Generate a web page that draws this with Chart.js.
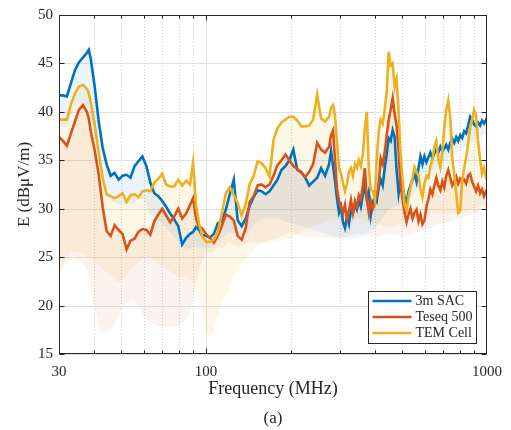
<!DOCTYPE html>
<html>
<head>
<meta charset="utf-8">
<script src="https://cdn.jsdelivr.net/npm/chart.js@4.4.0/dist/chart.umd.min.js"></script>
<style>
  html, body { margin: 0; padding: 0; background: #fff; }
  #wrap { width: 511px; height: 430px; }
</style>
</head>
<body>
<div id="wrap"><canvas id="chart"></canvas></div>
<script>
// frequency grid (MHz) shared by the three measured curves
const freqMHz = [
  30, 31.0, 32.0, 33.1, 34.2, 35.3, 36.5, 37.7, 38.3, 38.9, 40.2, 41.5, 42.9, 44.3, 45.8, 47.3, 48.9, 50.5, 52.2, 53.9,
  55.7, 57.5, 59.4, 61.4, 63.4, 65.5, 67.7, 69.9, 72.2, 74.6, 77.1, 79.7, 82.3, 85.0, 87.8, 90.0, 92.2, 94.5, 96.8, 100,
  103.3, 106.7, 110.2, 113.9, 117.7, 121.6, 125.6, 129.7, 134.0, 138.5, 143.0, 147.8, 152.7, 157.7, 162.9, 168.3,
  173.9, 179.6, 185.6, 191.7, 198.1, 204.6, 211.4, 218.4, 225.6, 233.0, 240.7, 248.7, 256.9, 265.4, 274.2,
  278.7, 283.4, 288.0, 292.7, 297.5, 302.4, 307.4, 312.4, 317.5, 322.7, 328.0, 333.4, 338.8, 344.4, 350.0, 355.8,
  361.6, 367.6, 373.6, 379.7, 385.9, 392.3, 398.7, 405.2, 411.9, 418.6, 425.6, 432.5, 439.6, 446.8, 454.1, 461.6,
  469.2, 476.8, 484.7, 492.6, 500.7, 508.9, 517.3, 525.7, 534.4, 543.3, 552.1, 561.2, 570.5, 579.9, 589.3, 599.0,
  608.8, 618.7, 628.9, 639.2, 649.6, 660.3, 671.2, 682.2, 693.4, 704.8, 716.3, 728.1, 740.1, 752.2, 764.5, 777.1,
  789.8, 802.8, 816.0, 829.4, 843.0, 856.9, 870.9, 885.1, 899.7, 914.4, 929.4, 944.7, 960.1, 975.9, 992.0, 1000
];

// field strength, dBuV/m
const sacLevel = [
  41.7, 41.7, 41.6, 43.0, 44.3, 45.1, 45.6, 46.1, 46.4, 45.5, 42.6, 39.1, 36.3, 34.6, 33.4, 33.7, 33.0, 33.4, 33.5, 33.2,
  34.4, 34.9, 35.4, 34.4, 32.7, 31.6, 31.3, 30.8, 30.2, 29.5, 28.9, 28.2, 26.3, 27.0, 27.4, 27.6, 28.1, 27.8, 27.3, 27.2,
  27.0, 27.4, 28.5, 28.7, 29.9, 31.5, 33.0, 28.8, 28.2, 29.0, 30.3, 31.2, 31.9, 31.8, 31.5, 31.8,
  32.4, 33.0, 34.0, 34.4, 35.0, 36.1, 34.0, 33.8, 33.2, 32.4, 32.8, 33.2, 34.2, 33.4, 34.6,
  36.0, 34.4, 32.8, 31.0, 29.6, 30.2, 28.6, 28.0, 29.2, 28.4, 29.8, 29.5, 30.4, 29.9, 30.9, 30.2,
  31.4, 32.4, 31.0, 31.8, 29.3, 30.6, 31.3, 30.8, 32.2, 33.0, 32.4, 34.2, 35.6, 37.3, 37.0, 38.1,
  37.4, 34.0, 31.6, 33.0, 32.5, 31.2, 30.6, 31.8, 32.4, 33.0, 33.6, 32.8, 34.2, 35.4, 34.6, 35.4,
  34.8, 35.3, 35.8, 35.2, 35.7, 36.2, 35.8, 36.4, 35.9, 36.2, 36.6, 36.1, 36.8, 37.2, 36.8, 37.4,
  37.0, 37.6, 37.3, 38.0, 37.8, 38.6, 39.5, 39.2, 38.7, 38.5, 38.9, 38.6, 39.1, 38.8, 39.2, 39.0
];
const teseqLevel = [
  37.4, 37.0, 36.5, 37.8, 39.0, 40.2, 40.7, 40.0, 39.3, 38.0, 36.0, 33.6, 30.2, 27.7, 27.2, 28.3, 27.8, 27.4, 25.8, 26.7,
  26.9, 27.6, 27.9, 27.8, 27.3, 28.7, 29.4, 30.0, 29.3, 28.6, 29.2, 30.0, 29.0, 29.5, 30.4, 31.1, 29.0, 28.1, 28.0, 27.4,
  27.0, 26.5, 27.2, 28.2, 29.4, 29.2, 28.8, 27.2, 26.8, 28.0, 30.7, 31.3, 32.4, 32.5, 32.2, 32.5,
  33.4, 34.5, 35.0, 35.6, 35.0, 34.4, 34.1, 33.7, 33.3, 33.8, 34.6, 36.8, 36.1, 35.8, 36.4,
  37.6, 38.1, 35.0, 32.0, 30.8, 30.2, 29.6, 30.4, 28.9, 29.8, 30.9, 29.6, 30.8, 30.2, 31.4, 31.0,
  32.4, 34.2, 31.0, 29.6, 30.8, 30.0, 30.6, 31.4, 32.6, 35.2, 34.6, 35.8, 37.6, 39.1, 40.2, 41.4,
  39.8, 38.6, 36.0, 32.4, 31.0, 29.6, 28.6, 29.4, 30.0, 29.0, 29.6, 29.9, 28.7, 29.4, 28.4, 28.8,
  30.2, 31.0, 32.0, 31.5, 32.4, 33.2, 32.4, 31.9, 32.8, 32.2, 33.4, 34.0, 33.2, 32.4, 32.8, 33.3,
  32.6, 33.1, 32.8, 33.0, 32.6, 33.4, 33.6, 32.8, 32.3, 31.8, 32.4, 31.6, 32.0, 31.3, 31.8, 31.5
];
const temLevel = [
  39.2, 39.2, 39.2, 40.8, 41.9, 42.6, 42.8, 42.4, 41.9, 41.0, 38.7, 35.9, 33.2, 31.5, 31.3, 31.1, 31.3, 31.6, 30.7, 31.4,
  31.5, 31.2, 31.8, 31.9, 31.8, 32.7, 33.1, 33.6, 32.5, 32.3, 32.3, 33.0, 32.4, 32.9, 32.5, 34.8, 30.4, 28.5, 27.2, 26.6,
  26.6, 26.8, 27.6, 29.5, 31.6, 32.2, 31.4, 30.6, 29.3, 30.5, 32.5, 33.4, 34.9, 34.7, 34.2, 33.3,
  37.1, 38.3, 38.9, 39.2, 39.5, 39.5, 39.1, 38.5, 38.5, 38.6, 39.2, 41.8, 39.3, 39.0, 39.5,
  40.4, 40.7, 39.6, 36.8, 34.2, 33.6, 32.6, 31.8, 32.6, 33.8, 34.2, 33.4, 34.6, 34.2, 35.0, 34.4,
  35.6, 38.4, 40.0, 34.2, 32.0, 31.8, 30.9, 35.2, 38.0, 39.2, 38.8, 40.2, 42.0, 46.2, 44.8, 45.0,
  42.6, 43.4, 40.0, 35.6, 33.0, 30.4, 29.8, 31.2, 32.2, 33.2, 34.3, 33.8, 33.4, 32.0, 31.2, 32.6,
  33.4, 33.2, 34.4, 35.0, 36.4, 37.0, 35.2, 34.3, 35.8, 38.4, 40.2, 41.2, 39.4, 35.2, 33.6, 31.6,
  29.6, 29.8, 33.0, 34.2, 35.4, 36.8, 38.4, 39.2, 40.2, 39.6, 37.0, 35.2, 33.6, 34.2, 33.2, 33.0
];

// lower edge of the spread for each setup
const bandFreq = [30, 31, 32, 33, 34, 36, 38, 40, 42, 44, 46, 48, 50, 52, 55, 58, 60, 63, 66, 70, 75, 80, 85, 88, 90, 95,
  100, 103, 106, 110, 115, 120, 130, 140, 150, 160, 180, 200, 230, 260, 300, 350, 400, 450, 500, 550, 600, 700, 800, 900, 1000];
const sacLow = [38.5, 38.5, 38.5, 39.5, 40.5, 41, 40.5, 38, 34, 31.5, 30.8, 30.5, 30.5, 30.5, 30.5, 31, 31, 29.5, 29, 28.5,
  27.5, 26.5, 25.8, 26, 26, 26, 26, 26, 26, 26.5, 27, 27.5, 27.5, 27.5, 28.5, 29, 29, 28.5, 28, 27.5, 27, 27, 28, 30, 30.5,
  31.5, 33.5, 34.8, 36, 37.2, 37.8];
const teseqLow = [23.5, 23.8, 24.5, 25, 25, 24.5, 23.5, 20, 17.5, 17.2, 17.5, 18.5, 19.5, 20.3, 20.5, 19.8, 19, 18.3, 18,
  17.8, 17.8, 18, 18.5, 19.5, 21, 24, 25.5, 25.5, 25.5, 26, 26, 26.5, 26, 26.5, 26.5, 26.5, 27, 27.5, 27, 27, 27, 27.5, 27,
  27.5, 27, 27.5, 27.8, 28.5, 29, 29.5, 30];
const temLow = [25, 24.5, 25, 25.5, 25.5, 25.5, 25, 24.5, 24, 23.5, 23, 22.5, 22.5, 23, 24, 24.5, 25, 25, 24.5, 24, 23.5,
  23, 23, 22.5, 22.5, 20.5, 17.5, 16.8, 17.2, 19, 20.6, 21.5, 24, 25, 26, 26.5, 26.5, 27, 28, 28.5, 29, 29, 28.5, 28, 28.5,
  29, 29.5, 29.5, 29.5, 30, 30.5];

// axis ticks
const yTicks = [15, 20, 25, 30, 35, 40, 45, 50];
const xLabels = [30, 100, 1000];
const xMajor = [100];
const xMinor = [40, 50, 60, 70, 80, 90, 200, 300, 400, 500, 600, 700, 800, 900];

const seriesNames = ['3m SAC', 'Teseq 500', 'TEM Cell'];
const colors = ['#0072BD', '#D95319', '#EDB120'];
const bandColors = ['rgba(0,114,189,0.08)', 'rgba(217,83,25,0.07)', 'rgba(237,177,32,0.1)'];

const FONT = '"Liberation Serif", "DejaVu Serif", serif';
const INK = '#262626';

const toPoints = (xs, ys) => xs.map((f, i) => ({ x: f, y: ys[i] }));

const lineSet = (i, values) => ({
  label: seriesNames[i],
  data: toPoints(freqMHz, values),
  borderColor: colors[i],
  borderWidth: 2.6,
  pointRadius: 0,
  tension: 0,
  fill: false,
  order: 3 - i
});
const bandSet = (i, values) => ({
  label: seriesNames[i] + ' spread',
  data: toPoints(bandFreq, values),
  borderWidth: 0,
  borderColor: 'rgba(0,0,0,0)',
  backgroundColor: bandColors[i],
  pointRadius: 0,
  tension: 0,
  fill: i,
  order: 10 + i
});

// grid, inward ticks, box, legend and caption in MATLAB style
const axesFrame = {
  id: 'axesFrame',
  beforeDatasetsDraw(chart) {
    const { ctx, chartArea: a, scales: { x, y } } = chart;
    const seg = (x1, y1, x2, y2) => { ctx.beginPath(); ctx.moveTo(x1, y1); ctx.lineTo(x2, y2); ctx.stroke(); };
    ctx.save();
    ctx.lineWidth = 1;
    ctx.strokeStyle = '#e0e0e0';
    yTicks.forEach(v => { const p = Math.round(y.getPixelForValue(v)) + 0.5; seg(a.left, p, a.right, p); });
    xMajor.forEach(v => { const p = Math.round(x.getPixelForValue(v)) + 0.5; seg(p, a.top, p, a.bottom); });
    ctx.strokeStyle = '#cfcfcf';
    ctx.setLineDash([1, 2]);
    xMinor.forEach(v => { const p = Math.round(x.getPixelForValue(v)) + 0.5; seg(p, a.top, p, a.bottom); });
    ctx.restore();
  },
  afterDatasetsDraw(chart) {
    const { ctx, chartArea: a, scales: { x, y } } = chart;
    const seg = (x1, y1, x2, y2) => { ctx.beginPath(); ctx.moveTo(x1, y1); ctx.lineTo(x2, y2); ctx.stroke(); };
    const L = Math.round(a.left) + 0.5, R = Math.round(a.right) - 0.5;
    const T = Math.round(a.top) + 0.5, B = Math.round(a.bottom) - 0.5;
    ctx.save();
    ctx.strokeStyle = INK;
    ctx.lineWidth = 1;
    ctx.strokeRect(L, T, R - L, B - T);
    yTicks.forEach(v => {
      const p = Math.round(y.getPixelForValue(v)) + 0.5;
      seg(L, p, L + 5, p);
      seg(R, p, R - 5, p);
    });
    xMajor.forEach(v => {
      const p = Math.round(x.getPixelForValue(v)) + 0.5;
      seg(p, B, p, B - 5);
      seg(p, T, p, T + 5);
    });
    xMinor.forEach(v => {
      const p = Math.round(x.getPixelForValue(v)) + 0.5;
      seg(p, B, p, B - 3);
      seg(p, T, p, T + 3);
    });

    // legend box
    const bx = Math.round(a.right) - 119 + 0.5, by = Math.round(a.bottom) - 63 + 0.5;
    const bw = 108, bh = 52;
    ctx.fillStyle = '#fff';
    ctx.fillRect(bx, by, bw, bh);
    ctx.strokeRect(bx, by, bw, bh);
    ctx.font = '14px ' + FONT;
    ctx.textBaseline = 'middle';
    ctx.textAlign = 'left';
    seriesNames.forEach((name, i) => {
      const ry = by + 9.5 + i * 16;
      ctx.strokeStyle = colors[i];
      ctx.lineWidth = 2.6;
      seg(bx + 4, ry, bx + 43, ry);
      ctx.fillStyle = INK;
      ctx.fillText(name, bx + 47, ry + 0.5);
    });

    // panel caption
    ctx.font = '17px ' + FONT;
    ctx.textAlign = 'center';
    ctx.fillStyle = INK;
    ctx.fillText('(a)', (a.left + a.right) / 2, 419);
    ctx.restore();
  }
};

new Chart(document.getElementById('chart'), {
  type: 'line',
  data: {
    datasets: [
      lineSet(0, sacLevel),
      lineSet(1, teseqLevel),
      lineSet(2, temLevel),
      bandSet(0, sacLow),
      bandSet(1, teseqLow),
      bandSet(2, temLow)
    ]
  },
  options: {
    responsive: true,
    maintainAspectRatio: false,
    animation: false,
    devicePixelRatio: 1,
    layout: { padding: { left: 0, right: 21, top: 15, bottom: 26 } },
    plugins: { legend: { display: false }, tooltip: { enabled: false } },
    scales: {
      x: {
        type: 'logarithmic',
        min: 30,
        max: 1000,
        grid: { display: false, drawTicks: false },
        border: { display: false },
        ticks: {
          autoSkip: false,
          maxRotation: 0,
          padding: 9,
          color: INK,
          font: { family: FONT, size: 15 },
          callback: v => (xLabels.includes(v) ? String(v) : '')
        },
        title: {
          display: true,
          text: 'Frequency (MHz)',
          color: INK,
          font: { family: FONT, size: 18 },
          padding: { top: 0, bottom: 4 }
        },
        afterFit: s => { s.height = 50; }
      },
      y: {
        min: 15,
        max: 50,
        grid: { display: false, drawTicks: false },
        border: { display: false },
        ticks: {
          stepSize: 5,
          padding: 6,
          color: INK,
          font: { family: FONT, size: 15 }
        },
        title: {
          display: true,
          text: 'E (dBμV/m)',
          color: INK,
          font: { family: FONT, size: 17 },
          padding: { top: 14, bottom: 0 }
        },
        afterFit: s => { s.width = 59; }
      }
    }
  },
  plugins: [axesFrame]
});
</script>
</body>
</html>
